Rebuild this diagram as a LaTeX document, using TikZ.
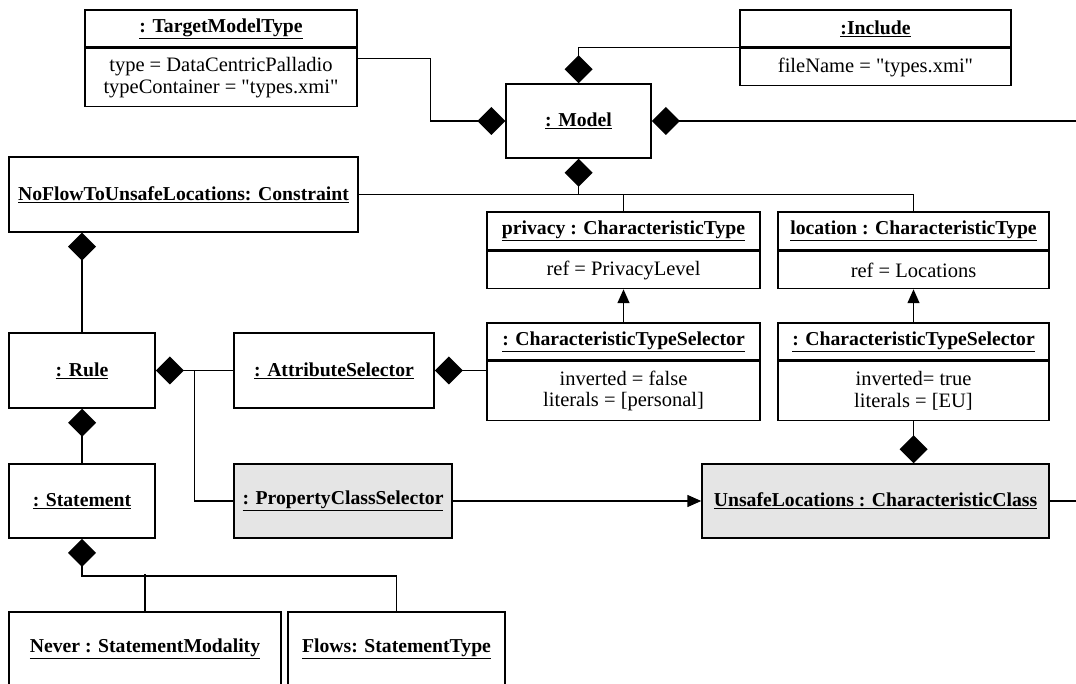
\documentclass[tikz,border=0pt]{standalone}
\usepackage{fontspec}
\setmainfont{Liberation Serif}[Ligatures=TeXOff]
\usetikzlibrary{arrows.meta, calc}

\begin{document}
\begin{tikzpicture}[x=1pt, y=-1pt,
        box/.style={draw, line width=1.5pt, inner sep=0pt, minimum height=#1, font=\fontsize{19.7}{21}\selectfont\bfseries},
        box/.default=74pt,
        head/.style={draw, line width=1.5pt, inner sep=0pt, minimum height=37pt, font=\fontsize{19.7}{21}\selectfont\bfseries},
        attr/.style={draw, line width=1.5pt, inner sep=0pt, align=center, anchor=north, font=\fontsize{20.5}{21.7}\selectfont},
        grey/.style={fill=gray!20},
        wire/.style={line width=1.5pt},
        comp/.style={wire, {Diamond[length=28pt,width=28pt]}-},
        arr/.style={wire, -{Triangle[length=14pt,width=12pt]}}]
        \useasboundingbox (0,0) rectangle (1076,684);
        \clip (0,0) rectangle (1076,684);

        \node[head, minimum width=272pt] (tmt) at (221,28.5) {\underline{: TargetModelType}};
        \node[attr, minimum width=272pt, minimum height=58pt] (tmt-a) at (tmt.south) {type = DataCentricPalladio\\typeContainer = "types.xmi"};
        \node[head, minimum width=271pt] (inc) at (875.5,28.5) {\underline{:Include}};
        \node[attr, minimum width=271pt, minimum height=37pt] (inc-a) at (inc.south) {fileName = "types.xmi"};
        \node[box, minimum width=145pt] (model) at (578.5,121) {\underline{: Model}};
        \node[box=75pt, minimum width=349pt] (cons) at (183.5,194.5) {\underline{NoFlowToUnsafeLocations: Constraint}};

        \node[head, minimum width=273pt, minimum height=38pt] (priv) at (623.5,231) {\underline{privacy : CharacteristicType}};
        \node[attr, minimum width=273pt, minimum height=37pt] (priv-a) at (priv.south) {ref = PrivacyLevel};
        \node[head, minimum width=271pt, minimum height=38pt] (loc) at (913.5,231) {\underline{location : CharacteristicType}};
        \node[attr, minimum width=271pt, minimum height=37pt] (loc-a) at (loc.south) {ref = Locations};

        \node[head, minimum width=273pt] (cts1) at (623.5,341.5) {\underline{: CharacteristicTypeSelector}};
        \node[attr, minimum width=273pt, minimum height=59pt] (cts1-a) at (cts1.south) {inverted = false\\literals = [personal]};
        \node[head, minimum width=271pt] (cts2) at (913.5,341.5) {\underline{: CharacteristicTypeSelector}};
        \node[attr, minimum width=271pt, minimum height=59pt] (cts2-a) at (cts2.south) {inverted= true\\literals = [EU]};

        \node[box=75pt, minimum width=146pt] (rule) at (82,370.5) {\underline{: Rule}};
        \node[box=75pt, minimum width=200pt] (asel) at (334,370.5) {\underline{: AttributeSelector}};
        \node[box, minimum width=146pt] (stmt) at (82,501) {\underline{: Statement}};
        \node[box, grey, minimum width=218pt] (pcs) at (343,501) {\underline{: PropertyClassSelector}};
        \node[box, grey, minimum width=347pt] (unsafe) at (875.5,501) {\underline{UnsafeLocations : CharacteristicClass}};
        \node[box, minimum width=272pt] (never) at (145,649) {\underline{Never : StatementModality}};
        \node[box, minimum width=217pt] (flows) at (396.5,649) {\underline{Flows: StatementType}};

        \coordinate (out-m) at (1080,121);
        \coordinate (out-u) at (1080,501);
        \coordinate (split) at ($(rule.east)!.5!(asel.west)$);

        \draw[comp] (model.west) -- ++(-75,0) |- ([yshift=-11pt]tmt-a.north east);
        \draw[comp] (model.north) |- (inc.south west);
        \draw[comp] (model.east) -- (out-m);
        \draw[comp] (model.south) -- (model.south |- cons.east);
        \draw[wire] (cons.east) -| (loc.north);
        \draw[wire] (priv.north) -- (priv.north |- cons.east);
        \draw[arr] (cts1.north) -- (priv-a.south);
        \draw[arr] (cts2.north) -- (loc-a.south);
        \draw[comp] (rule.north |- cons.south) -- (rule.north);
        \draw[comp] (rule.east) -- (asel.west);
        \draw[wire] (split) |- (pcs.west);
        \draw[comp] (asel.east) -- (asel.east -| cts1-a.west);
        \draw[comp] (rule.south) -- (stmt.north);
        \draw[arr] (pcs.east) -- (unsafe.west);
        \draw[wire] (unsafe.east) -- (out-u);
        \draw[comp] (cts2-a.south |- unsafe.north) -- (cts2-a.south);
        \draw[comp] (stmt.south) -- ++(0,37) -| (flows.north);
        \draw[wire] (never.north) -- ++(0,-37);
    \end{tikzpicture}
\end{document}
